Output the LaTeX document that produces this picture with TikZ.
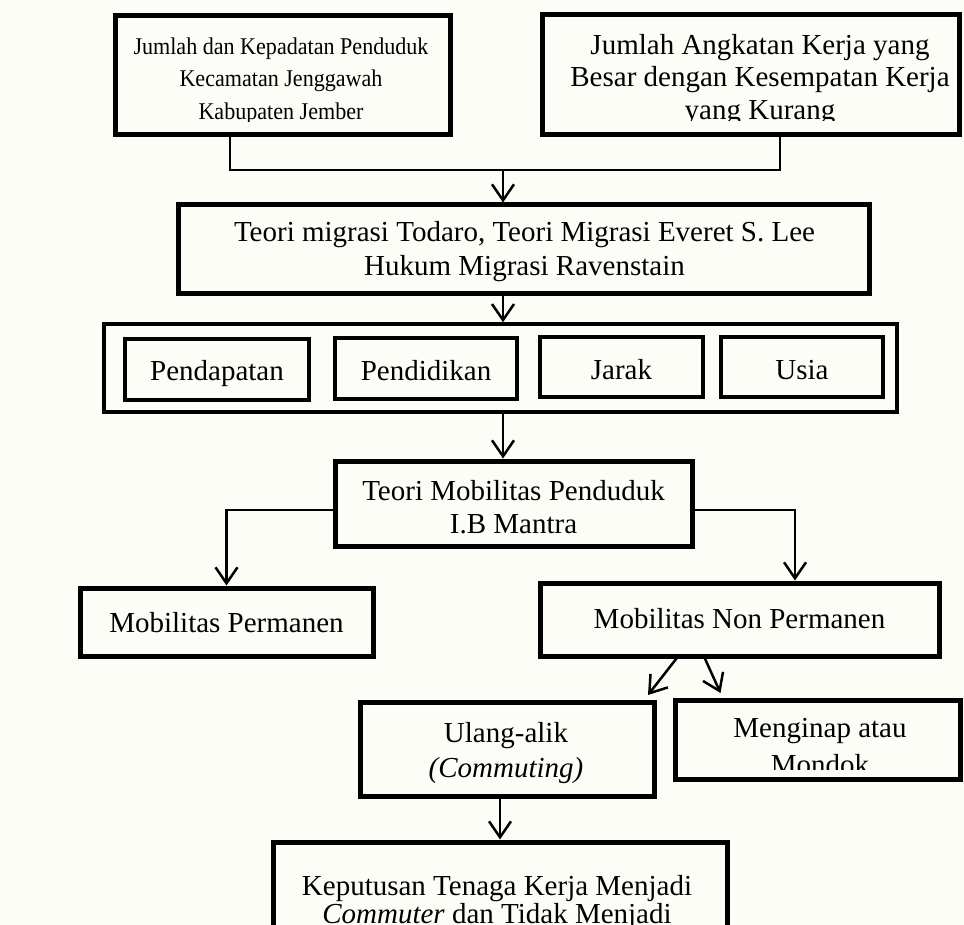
\documentclass[tikz,border=0pt]{standalone}
\usepackage{fontspec}
\setmainfont{Liberation Serif}
\newfontfamily\narrowserif[FakeStretch=0.92]{Liberation Serif}
\usetikzlibrary{arrows.meta,calc}
\definecolor{bgc}{HTML}{FDFDF8}
\tikzset{
  box/.style={draw=black, line width=5pt, inner sep=0pt, fill=none},
  outerbox/.style={draw=black, line width=3.5pt, inner sep=0pt},
  innerbox/.style={draw=black, line width=4.5pt, inner sep=0pt},
  txt/.style={inner sep=0pt, anchor=base, font=\fontsize{29}{34}\selectfont},
  narrowtxt/.style={inner sep=0pt, anchor=base, font=\narrowserif\fontsize{24}{32}\selectfont},
  ln/.style={line width=2.5pt},
  arr/.style={line width=2.5pt, -{Straight Barb[length=16pt,width=22pt]}}
}
\begin{document}
\begin{tikzpicture}[x=1pt,y=-1pt]
\clip (0,0) rectangle (964,925);
\fill[bgc] (0,0) rectangle (964,925);

% boxes
\node[box, minimum width=335pt, minimum height=119pt] (b1) at (282.5,75) {};
\node[box, minimum width=417pt, minimum height=120.5pt] (b2) at (750.5,74.75) {};
\node[box, minimum width=691pt, minimum height=89pt] (b3) at (523.5,249.5) {};
\node[outerbox, minimum width=793pt, minimum height=88pt] (g) at (500.5,368) {};
\node[innerbox, minimum width=184pt, minimum height=61pt] (p1) at (217,369.5) {};
\node[innerbox, minimum width=182pt, minimum height=61pt] (p2) at (426,368.5) {};
\node[innerbox, minimum width=163pt, minimum height=60pt] (p3) at (621.5,367) {};
\node[innerbox, minimum width=162pt, minimum height=60pt] (p4) at (802,367) {};
\node[box, minimum width=357pt, minimum height=85pt] (tm) at (513.5,503.5) {};
\node[box, minimum width=293pt, minimum height=68pt] (mp) at (226.5,622) {};
\node[box, minimum width=399pt, minimum height=73pt] (mnp) at (739.5,619.5) {};
\node[box, minimum width=294pt, minimum height=94pt] (ua) at (507,749) {};
\node[box, minimum width=285pt, minimum height=79pt] (mg) at (817.5,739.5) {};
\node[box, minimum width=454pt, minimum height=118pt] (kt) at (500,901) {};

% texts
\begin{scope}
\clip (117.5,18) rectangle (447.5,122);
\node[narrowtxt] (t1a) at (281,55) {Jumlah dan Kepadatan Penduduk};
\node[narrowtxt] (t1b) at (281,87) {Kecamatan Jenggawah};
\node[narrowtxt] (t1c) at (281,120) {Kabupaten Jember};
\end{scope}
\begin{scope}
\clip (544.5,17) rectangle (956.5,121);
\node[txt] (t2a) at (760,55) {Jumlah Angkatan Kerja yang};
\node[txt] (t2b) at (760,87) {Besar dengan Kesempatan Kerja};
\node[txt] (t2c) at (760,120) {yang Kurang};
\end{scope}
\node[txt] (t3a) at (524.5,242) {Teori migrasi Todaro, Teori Migrasi Everet S. Lee};
\node[txt] (t3b) at (524.5,276) {Hukum Migrasi Ravenstain};
\node[txt] (tp1) at (217,380) {Pendapatan};
\node[txt] (tp2) at (426,380) {Pendidikan};
\node[txt] (tp3) at (621.5,379) {Jarak};
\node[txt] (tp4) at (802,379) {Usia};
\node[txt] (ttma) at (513.5,500) {Teori Mobilitas Penduduk};
\node[txt] (ttmb) at (513.5,533) {I.B Mantra};
\node[txt] (tmp) at (226.5,632) {Mobilitas Permanen};
\node[txt] (tmnp) at (739.5,628) {Mobilitas Non Permanen};
\node[txt] (tuaa) at (506,742) {Ulang-alik};
\node[txt] (tuab) at (506,777) {\itshape(Commuting)};
\begin{scope}
\clip (677.5,702.5) rectangle (957.5,769);
\node[txt] (tmga) at (820,737) {Menginap atau};
\node[txt] (tmgb) at (820,774) {Mondok};
\end{scope}
\node[txt] (tkta) at (497,895) {Keputusan Tenaga Kerja Menjadi};
\node[txt] (tktb) at (497,923) {\itshape Commuter\upshape{} dan Tidak Menjadi};

% connectors
\coordinate (j) at (503,170);
\draw[ln] ([xshift=-52.5pt]b1.south) |- (j) -| ([xshift=29.5pt]b2.south);
\draw[arr] (j) -- (j |- b3.north);
\draw[arr] (j |- b3.south) -- (j |- g.north);
\draw[arr] (j |- g.south) -- (j |- tm.north);
\draw[arr] ([yshift=-6.5pt]tm.west) -| (mp.north);
\draw[arr] ([yshift=-6.5pt]tm.east) -| ([xshift=55.5pt]mnp.north);
\draw[arr] ($(mnp.south)+(-61.5,-2)$) -- ($(ua.north east)+(-8.5,-4.5)$);
\draw[arr] ($(mnp.south)+(-35.5,-2)$) -- ($(mg.north west)+(48,-4.5)$);
\draw[arr] (ua.south -| kt.north) -- (kt.north);
\end{tikzpicture}
\end{document}
